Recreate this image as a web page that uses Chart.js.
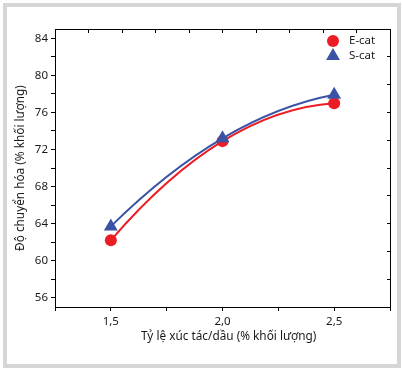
<!DOCTYPE html>
<html>
<head>
<meta charset="utf-8">
<script src="https://cdn.jsdelivr.net/npm/chart.js@4.4.1/dist/chart.umd.min.js"></script>
<style>
  body { margin: 0; background: #fff; }
  #wrap { position: relative; width: 402px; height: 371px; }
  #frame { position: absolute; left: 3px; top: 3px; width: 398px; height: 365px; box-sizing: border-box; border: 4px solid #d6d6d6; pointer-events: none; }
  canvas { position: absolute; left: 0; top: 0; }
</style>
</head>
<body>
<div id="wrap">
  <canvas id="myChart" width="402" height="371"></canvas>
  <div id="frame"></div>
</div>
<script>
// số liệu
const ratios = [1.5, 2.0, 2.5];
const eCat = [62.2, 72.9, 77.0];
const sCat = [63.7, 73.2, 77.9];
const seriesNames = ['E-cat', 'S-cat'];

const xTicks = [1.25, 1.5, 1.75, 2.0, 2.25, 2.5, 2.75];
const xLabels = [1.5, 2.0, 2.5];
const yTicks = [56, 58, 60, 62, 64, 66, 68, 70, 72, 74, 76, 78, 80, 82, 84];
const yLabels = [56, 60, 64, 68, 72, 76, 80, 84];
const topTicks = [1.4, 1.55, 1.7, 1.85, 2.0, 2.15, 2.3, 2.45, 2.6];
const rightTicks = [58, 61, 64, 67, 70, 73, 76, 79, 82];

const red = '#ec1c24';
const blue = '#3a53a4';
const textColor = '#1a1a1a';

Chart.defaults.font.family = '"Noto Sans", sans-serif';
Chart.defaults.font.size = 11.5;
Chart.defaults.color = textColor;

function toPoints(ys) {
    return ratios.map((x, i) => ({ x: x, y: ys[i] }));
}

// đường cong bậc hai qua 3 điểm (giống đường fit trong hình gốc)
const parabolaCurve = {
    id: 'parabolaCurve',
    beforeDatasetDraw(chart, args) {
        const meta = args.meta;
        const line = meta.dataset;
        if (!line || !line.points || line.points.length < 3) return;
        line.updateControlPoints(chart.chartArea, meta.iScale.axis);
        const pts = line.points;
        const n = pts.length;
        for (let i = 0; i < n - 1; i++) {
            const j = Math.min(i, n - 3);
            const p0 = pts[j], p1 = pts[j + 1], p2 = pts[j + 2];
            const f01 = (p1.y - p0.y) / (p1.x - p0.x);
            const f12 = (p2.y - p1.y) / (p2.x - p1.x);
            const f012 = (f12 - f01) / (p2.x - p0.x);
            const slope = (x) => f01 + f012 * (2 * x - p0.x - p1.x);
            const a = pts[i], b = pts[i + 1];
            const h = (b.x - a.x) / 3;
            a.cp2x = a.x + h;
            a.cp2y = a.y + slope(a.x) * h;
            b.cp1x = b.x - h;
            b.cp1y = b.y - slope(b.x) * h;
        }
    }
};

// chú thích trong vùng vẽ
const legendInside = {
    id: 'legendInside',
    afterDraw(chart) {
        const ctx = chart.ctx;
        const area = chart.chartArea;
        const mx = area.right - 57;
        const tx = area.right - 41;
        const rows = [area.top + 12, area.top + 27];
        ctx.save();
        // E-cat
        ctx.fillStyle = red;
        ctx.beginPath();
        ctx.arc(mx, rows[0], 6, 0, Math.PI * 2);
        ctx.fill();
        // S-cat
        const r = 8;
        ctx.fillStyle = blue;
        ctx.beginPath();
        ctx.moveTo(mx, rows[1] - r);
        ctx.lineTo(mx + r * Math.cos(Math.PI / 6), rows[1] + r / 2);
        ctx.lineTo(mx - r * Math.cos(Math.PI / 6), rows[1] + r / 2);
        ctx.closePath();
        ctx.fill();
        ctx.fillStyle = textColor;
        ctx.font = '11.5px "Noto Sans", sans-serif';
        ctx.textBaseline = 'middle';
        ctx.textAlign = 'left';
        ctx.fillText(seriesNames[0], tx, rows[0]);
        ctx.fillText(seriesNames[1], tx, rows[1]);
        ctx.restore();
    }
};

const ctx = document.getElementById('myChart').getContext('2d');
new Chart(ctx, {
    type: 'scatter',
    data: {
        datasets: [
            {
                label: seriesNames[0],
                data: toPoints(eCat),
                showLine: true,
                tension: 0.4,
                borderColor: red,
                backgroundColor: red,
                borderWidth: 2,
                pointStyle: 'circle',
                pointRadius: 6,
                pointBorderWidth: 0,
                order: 1
            },
            {
                label: seriesNames[1],
                data: toPoints(sCat),
                showLine: true,
                tension: 0.4,
                borderColor: blue,
                backgroundColor: blue,
                borderWidth: 2,
                pointStyle: 'triangle',
                pointRadius: 8,
                pointBorderWidth: 0,
                order: 0
            }
        ]
    },
    options: {
        responsive: false,
        animation: false,
        layout: {
            padding: { left: 0, top: 29, right: 12, bottom: 0 }
        },
        plugins: {
            legend: { display: false },
            tooltip: { enabled: false }
        },
        scales: {
            x: {
                type: 'linear',
                position: 'bottom',
                min: 1.25,
                max: 2.75,
                afterBuildTicks: (scale) => { scale.ticks = xTicks.map(v => ({ value: v })); },
                afterFit: (scale) => { scale.height = 64; },
                ticks: {
                    padding: 4,
                    autoSkip: false,
                    maxRotation: 0,
                    callback: (value) => xLabels.includes(value) ? value.toFixed(1).replace('.', ',') : ''
                },
                grid: { drawOnChartArea: false, tickLength: 4, tickColor: '#000' },
                border: { color: '#000', width: 1 },
                title: {
                    display: true,
                    text: '    Tỷ lệ xúc tác/dầu (% khối lượng)',
                    padding: { top: 0, bottom: 27 },
                    font: { size: 11.8 }
                }
            },
            y: {
                type: 'linear',
                position: 'left',
                min: 55,
                max: 85,
                afterBuildTicks: (scale) => { scale.ticks = yTicks.map(v => ({ value: v })); },
                afterFit: (scale) => { scale.width = 55; },
                ticks: {
                    padding: 3,
                    autoSkip: false,
                    callback: (value) => yLabels.includes(value) ? String(value) : ''
                },
                grid: { drawOnChartArea: false, tickLength: 4, tickColor: '#000' },
                border: { color: '#000', width: 1 },
                title: {
                    display: true,
                    text: 'Độ chuyển hóa (% khối lượng)',
                    padding: { top: 14, bottom: 0 },
                    font: { size: 11.8 }
                }
            },
            xTop: {
                type: 'linear',
                position: 'top',
                min: 1.25,
                max: 2.75,
                afterBuildTicks: (scale) => { scale.ticks = topTicks.map(v => ({ value: v })); },
                afterFit: (scale) => { scale.height = 0; },
                ticks: { display: false },
                grid: { drawOnChartArea: false, tickLength: -4, tickColor: '#000' },
                border: { color: '#000', width: 1 }
            },
            yRight: {
                type: 'linear',
                position: 'right',
                min: 55,
                max: 85,
                afterBuildTicks: (scale) => { scale.ticks = rightTicks.map(v => ({ value: v })); },
                afterFit: (scale) => { scale.width = 0; },
                ticks: { display: false },
                grid: { drawOnChartArea: false, tickLength: -3, tickColor: '#000' },
                border: { color: '#000', width: 1 }
            }
        }
    },
    plugins: [parabolaCurve, legendInside]
});
</script>
</body>
</html>
